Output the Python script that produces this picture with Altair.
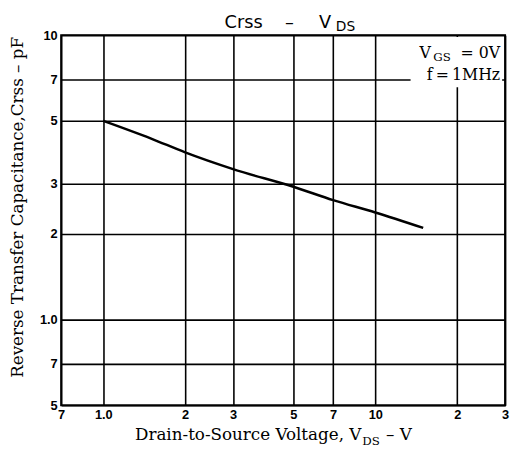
import altair as alt
import pandas as pd

# Curve data
vds = [1.0, 1.5, 2.0, 3.0, 5.0, 7.0, 10.0, 15.0]
crss = [5.0, 4.33, 3.87, 3.38, 2.93, 2.63, 2.38, 2.1]

x_ticks = [0.7, 1, 2, 3, 5, 7, 10, 20, 30]
x_tick_labels = ["7", "1.0", "2", "3", "5", "7", "10", "2", "3"]
y_ticks = [0.5, 0.7, 1, 2, 3, 5, 7, 10]
y_tick_labels = ["5", "7", "1.0", "2", "3", "5", "7", "10"]

W, H = 451, 376
SERIF = "DejaVu Serif"
SANS = "DejaVu Sans"
NB = "\u00a0"
TH = "\u2009"


def label_expr(ticks, labels):
    expr = "''"
    for t, l in reversed(list(zip(ticks, labels))):
        expr = f"abs(datum.value - {t}) < 1e-6 ? '{l}' : ({expr})"
    return expr


df = pd.DataFrame({"vds": vds, "crss": crss})
xscale = alt.Scale(type="log", domain=[0.7, 30], nice=False)
yscale = alt.Scale(type="log", domain=[0.5, 10], nice=False)

common_axis = dict(
    grid=True, gridColor="black", gridWidth=1.6, gridOpacity=1,
    ticks=False, domain=False, labelFont="Liberation Sans",
    labelFontWeight="bold", labelFontSize=13, labelColor="black",
    labelFlush=False, labelOverlap=False, title=None,
)

curve = alt.Chart(df).mark_line(color="black", strokeWidth=2.5, interpolate="monotone").encode(
    x=alt.X("vds:Q", scale=xscale,
            axis=alt.Axis(values=x_ticks, labelExpr=label_expr(x_ticks, x_tick_labels),
                          labelPadding=3, **common_axis)),
    y=alt.Y("crss:Q", scale=yscale,
            axis=alt.Axis(values=y_ticks, labelExpr=label_expr(y_ticks, y_tick_labels),
                          labelPadding=4, **common_axis)),
)

one = pd.DataFrame({"a": [0]})

box = alt.Chart(one).mark_rect(fill="white").encode(
    x=alt.value(355), x2=alt.value(448), y=alt.value(2), y2=alt.value(53)
)


def txt(text, x, y, font, size, align="left", baseline="alphabetic", angle=0, weight="normal"):
    return alt.Chart(one).mark_text(
        text=text, font=font, fontSize=size, align=align, baseline=baseline,
        angle=angle, fontWeight=weight, color="black",
    ).encode(x=alt.value(x), y=alt.value(y))


texts = [
    # title
    txt("Crss", 166, -7, SANS, 18),
    txt("–", 232, -7, SANS, 18, align="center"),
    txt("V", 262, -7, SANS, 18),
    txt("DS", 279, -4, SANS, 14),
    # annotation
    txt("V", 364, 23, SERIF, 16),
    txt("GS", 378, 26, SERIF, 12),
    txt("=" + NB + "0V", 446, 23, SERIF, 16, align="right"),
    txt("f" + TH + "=" + TH + "1MHz", 446, 46, SERIF, 16, align="right"),
    # x title
    txt("Drain-to-Source Voltage, V", 305, 411, SERIF, 17, align="right"),
    txt("DS", 306, 416, SERIF, 12),
    txt("– V", 330, 411, SERIF, 17),
    # y title
    txt("Reverse Transfer Capacitance,Crss – pF", -44, 175, SERIF, 17,
        align="center", baseline="middle", angle=270),
]

chart = alt.layer(curve, box, *texts).properties(
    width=W, height=H,
    autosize=alt.AutoSizeParams(type="none"),
    padding={"left": 54, "top": 24, "right": 5, "bottom": 48},
).configure_view(stroke="black", strokeWidth=2)

chart.save("out.html", embed_options={"renderer": "svg", "actions": False})
